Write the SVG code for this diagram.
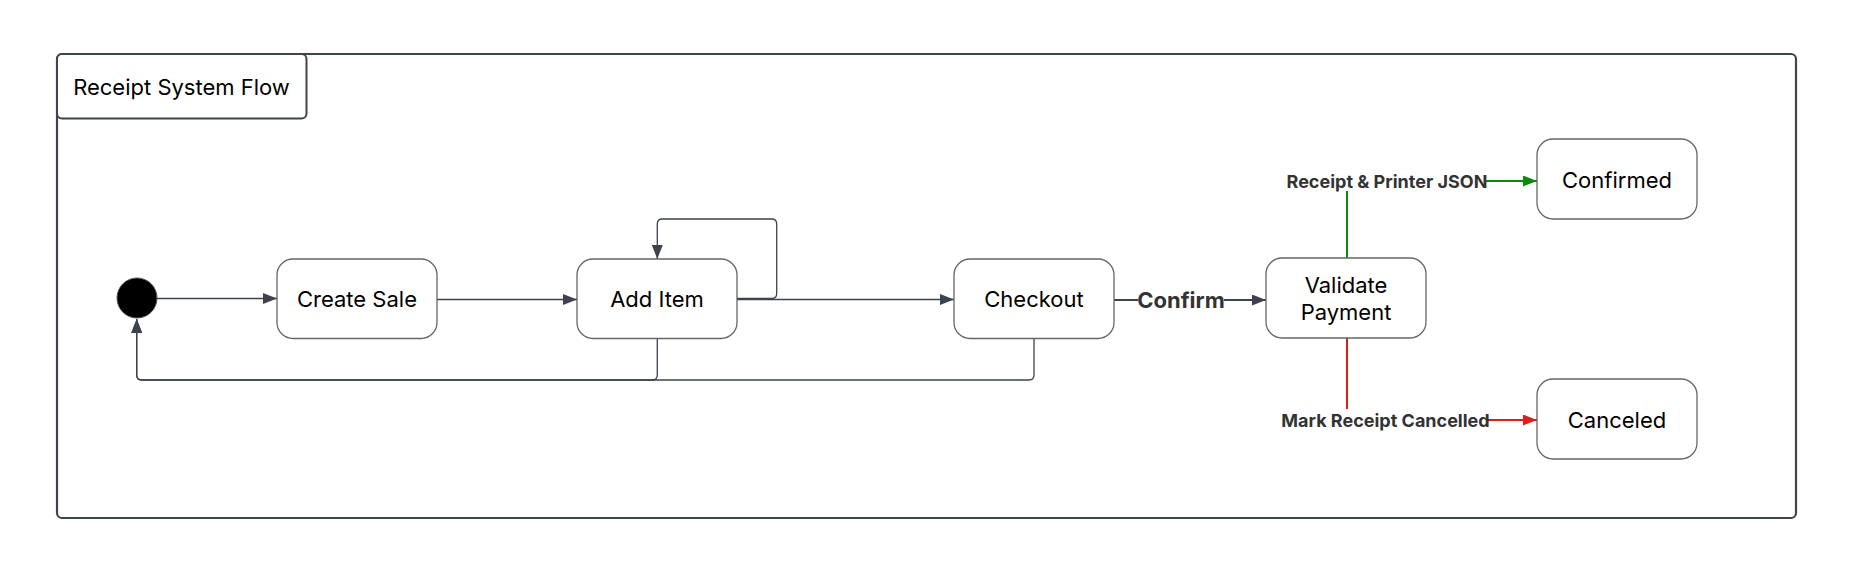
<svg xmlns="http://www.w3.org/2000/svg" width="1854" height="572" viewBox="0 0 1854 572">
<style>
.node{fill:#fff;stroke:#666;stroke-width:1.3}
.nt{font-family:Inter,"Noto Sans","Liberation Sans",sans-serif;font-size:22px;fill:#000;text-anchor:middle;dominant-baseline:central}
.edge{fill:none;stroke:#3d424d;stroke-width:1.3}
.lbl{font-family:Inter,"Noto Sans","Liberation Sans",sans-serif;font-weight:bold;fill:#333;text-anchor:middle;dominant-baseline:central}
.bg{fill:#fff}
</style>
<defs>
<marker id="ag" viewBox="0 0 14 11" refX="14" refY="5.5" markerWidth="14" markerHeight="11" markerUnits="userSpaceOnUse" orient="auto"><path d="M0,0 L14,5.5 L0,11 z" fill="#3d424d"/></marker>
<marker id="agr" viewBox="0 0 14 11" refX="14" refY="5.5" markerWidth="14" markerHeight="11" markerUnits="userSpaceOnUse" orient="auto"><path d="M0,0 L14,5.5 L0,11 z" fill="#0a8a0a"/></marker>
<marker id="ar" viewBox="0 0 14 11" refX="14" refY="5.5" markerWidth="14" markerHeight="11" markerUnits="userSpaceOnUse" orient="auto"><path d="M0,0 L14,5.5 L0,11 z" fill="#e01b1b"/></marker>
</defs>
<rect width="1854" height="572" fill="#fff"/>
<g id="cluster">
<rect x="57" y="54" width="1739" height="464" rx="5" fill="#fff" stroke="#3f444e" stroke-width="2.2"/>
<rect x="57" y="54" width="249.5" height="64.5" rx="5" fill="#fff" stroke="#3f444e" stroke-width="2"/>
<text x="181.5" y="87" class="nt" style="font-size:22px">Receipt System Flow</text>
</g>
<g id="connectors">
<path class="edge" d="M157,298.5 L277,298.5" marker-end="url(#ag)"/>
<path class="edge" d="M437,299.5 L577,299.5" marker-end="url(#ag)"/>
<path class="edge" d="M737,298.5 L771.7,298.5 Q776.7,298.5 776.7,293.5 L776.7,224 Q776.7,219 771.7,219 L662.3,219 Q657.3,219 657.3,224 L657.3,259" marker-end="url(#ag)"/>
<path class="edge" d="M737,299.5 L954,299.5" marker-end="url(#ag)"/>
<path class="edge" d="M657.3,339 L657.3,375 Q657.3,380 652.3,380 L141.7,380 Q136.7,380 136.7,375 L136.7,319" marker-end="url(#ag)"/>
<path class="edge" d="M1034,339 L1034,375 Q1034,380 1029,380 L141.7,380 Q136.7,380 136.7,375 L136.7,319" marker-end="url(#ag)"/>
<path class="edge" d="M1114,300 L1266,300" marker-end="url(#ag)" style="stroke-width:2"/>
<rect class="bg" x="1138" y="287" width="86" height="26"/>
<text class="lbl" x="1181" y="300" style="font-size:22px">Confirm</text>
<path class="edge" d="M1347,258 L1347,186 Q1347,181 1352,181 L1537,181" marker-end="url(#agr)" style="stroke:#0a8a0a;stroke-width:2"/>
<rect class="bg" x="1289" y="170" width="197" height="21"/>
<text class="lbl" x="1387" y="181" style="font-size:18px">Receipt &amp; Printer JSON</text>
<path class="edge" d="M1347,338 L1347,415 Q1347,420 1352,420 L1537,420" marker-end="url(#ar)" style="stroke:#e01b1b;stroke-width:2"/>
<rect class="bg" x="1283" y="409" width="205" height="22"/>
<text class="lbl" x="1385.5" y="420" style="font-size:18px">Mark Receipt Cancelled</text>
</g>
<g id="start"><circle cx="137" cy="298" r="20" fill="#000" stroke="#555" stroke-width="1"/></g>
<g id="create-sale"><rect class="node" x="277" y="259" width="160" height="79.5" rx="16"/><text class="nt" x="357" y="299">Create Sale</text></g>
<g id="add-item"><rect class="node" x="577" y="259" width="160" height="79.5" rx="16"/><text class="nt" x="657" y="299">Add Item</text></g>
<g id="checkout"><rect class="node" x="954" y="259" width="160" height="79.5" rx="16"/><text class="nt" x="1034" y="299">Checkout</text></g>
<g id="validate-payment"><rect class="node" x="1266" y="258" width="160" height="80" rx="16"/><text class="nt" x="1346" y="285">Validate</text><text class="nt" x="1346" y="312">Payment</text></g>
<g id="confirmed"><rect class="node" x="1537" y="139" width="160" height="80" rx="16"/><text class="nt" x="1617" y="179.5">Confirmed</text></g>
<g id="canceled"><rect class="node" x="1537" y="379" width="160" height="80" rx="16"/><text class="nt" x="1617" y="419.5">Canceled</text></g>
</svg>
